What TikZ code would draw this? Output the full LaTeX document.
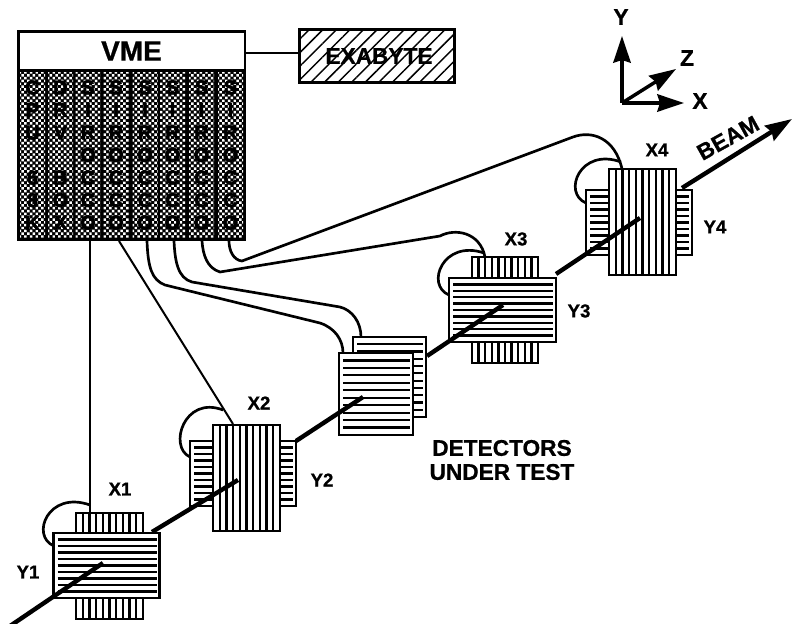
\documentclass[tikz,border=0pt]{standalone}
\usepackage{fontspec}
\setmainfont{Liberation Sans}[BoldFeatures={FakeBold=0.8}]
\newfontfamily\slotfont{Liberation Sans Bold}[FakeBold=2.2]
\usetikzlibrary{calc,patterns.meta,arrows.meta}
\tikzset{
  boxsize/.style 2 args={minimum width=#1*0.75pt,minimum height=#2*0.75pt},
  plate/.style={rectangle,draw=black,line width=2.2pt,fill=white,inner sep=0pt},
  rule/.style={draw=black,line width=1.7pt},
  hlined/.style={plate,path picture={
    \foreach \i in {1,...,#1}{
      \pgfmathsetmacro\frc{\i/(#1+1)}
      \draw[rule] ($(path picture bounding box.north west)!\frc!(path picture bounding box.south west)+(4,0)$)
        -- ($(path picture bounding box.north east)!\frc!(path picture bounding box.south east)+(-3,0)$);
    }}},
  vlined/.style={plate,path picture={
    \foreach \i in {1,...,#1}{
      \pgfmathsetmacro\frc{\i/(#1+1)}
      \draw[rule] ($(path picture bounding box.north west)!\frc!(path picture bounding box.north east)$)
        -- ($(path picture bounding box.south west)!\frc!(path picture bounding box.south east)$);
    }}},
  column/.style={rectangle,inner sep=0pt,align=center,
    font=\fontsize{15}{16.9}\selectfont\slotfont,
    preaction={fill=black},
    pattern={Dots[radius=1.3pt,distance=3pt,angle=45]},pattern color=white,
    boxsize={25}{164}},
  wire/.style={draw=black,line width=1.5pt},
  cable/.style={draw=black,line width=2pt},
  beam/.style={draw=black,line width=3.3pt},
  axis/.style={draw=black,line width=2.6pt,-{Stealth[length=20pt,width=13pt,inset=2pt]}},
  lab/.style={inner sep=0pt,font=\fontsize{14}{14}\selectfont\bfseries},
  biglab/.style={inner sep=0pt,align=center,font=\fontsize{17}{18}\selectfont\bfseries},
}
\begin{document}
\begin{tikzpicture}[x=0.75pt,y=-0.75pt]
\useasboundingbox (0,0) rectangle (792,624);

\node[rectangle,fill=black,inner sep=0pt,boxsize={229}{211}] (board) at (131.5,135.5) {};
\node[rectangle,fill=white,inner sep=0pt,boxsize={224}{36},font=\fontsize{21}{21}\selectfont\bfseries] (vme) at (131.5,51) {VME};
\foreach \name/\x/\txt in {cpu/32.5/C\\P\\U\\ \\6\\8\\K,drv/60.5/D\\R\\V\\ \\B\\O\\X,
    s1/88/S\\I\\R\\O\\C\\C\\O,s2/116/S\\I\\R\\O\\C\\C\\O,s3/145/S\\I\\R\\O\\C\\C\\O,
    s4/172.5/S\\I\\R\\O\\C\\C\\O,s5/201.5/S\\I\\R\\O\\C\\C\\O,s6/230.5/S\\I\\R\\O\\C\\C\\O}
    \node[column] (\name) at (\x,155) {\txt};

\node[rectangle,draw=black,line width=2.6pt,inner sep=0pt,boxsize={155}{53},
      pattern={Lines[angle=45,distance=7.2pt,line width=1.1pt]},
      font=\fontsize{17}{17}\selectfont\bfseries] (exabyte) at (377,56) {\kern3pt EXABYTE};

\node[vlined=9,boxsize={67}{106}] (d1x) at (109.5,566) {};
\node[hlined=9,boxsize={106}{65}] (d1y) at (106.5,565.5) {};
\node[hlined=9,boxsize={106}{65}] (d2y) at (243,473.5) {};
\node[vlined=9,boxsize={67}{106}] (d2x) at (246.5,478) {};
\node[hlined=10,boxsize={73}{80}] (d3b) at (389.5,377) {};
\node[hlined=10,boxsize={74}{82}] (d3f) at (376,394) {};
\node[vlined=9,boxsize={66}{106}] (d4x) at (505,310) {};
\node[hlined=9,boxsize={107}{64}] (d4y) at (502.5,310) {};
\node[hlined=9,boxsize={106}{65}] (d5y) at (639,222.5) {};
\node[vlined=9,boxsize={67}{106}] (d5x) at (642.5,222) {};

\coordinate (tapeport) at (299,53);
\coordinate (b1) at (10,626);
\coordinate (b2) at (103,563);
\coordinate (b3) at (152,532);
\coordinate (b4) at (238,480);
\coordinate (b5) at (296,441);
\coordinate (b6) at (363,397);
\coordinate (b7) at (427,356);
\coordinate (b8) at (503,305);
\coordinate (b9) at (556,274);
\coordinate (b10) at (640,218);
\coordinate (b11) at (682,188);
\coordinate (b12) at (792,119);
\coordinate (origin) at (622,103);
\coordinate (ytip) at (622,36);
\coordinate (xtip) at (684,103);
\coordinate (ztip) at (676,69);

\draw[wire] (board.east |- tapeport) -- (tapeport);
\draw[wire] (90,241) -- (90,513);
\draw[wire] (119,241) -- (233,424);

\draw[cable] (147,241) .. controls (148,268) and (152,280) .. (165,285) -- (320,323)
  .. controls (335,328) and (343,340) .. (343,353);
\draw[cable] (174,241) .. controls (175,262) and (178,278) .. (192,282) -- (340,307)
  .. controls (352,310) and (361,322) .. (361,337);
\draw[cable] (202,241) .. controls (203,255) and (207,268) .. (220,272) -- (440,236)
  .. controls (455,228) and (480,232) .. (485,257);
\draw[cable] (229,241) .. controls (229,250) and (233,260) .. (242,261) -- (573,137)
  .. controls (592,130) and (615,138) .. (622,169);

\draw[cable] (54,546) .. controls (30,536) and (48,490) .. (90,505);
\draw[cable] (190,457) .. controls (168,447) and (184,395) .. (223,410);
\draw[cable] (449,295) .. controls (425,285) and (443,239) .. (484,253);
\draw[cable] (586,203) .. controls (562,193) and (580,147) .. (621,162);

\draw[beam] (b1) -- (b2);
\draw[beam] (b3) -- (b4);
\draw[beam] (b5) -- (b6);
\draw[beam] (b7) -- (b8);
\draw[beam] (b9) -- (b10);
\draw[beam,-{Stealth[length=20pt,width=13pt,inset=2pt]}] (b11) -- (b12);

\draw[axis] (origin) -- (ytip);
\draw[axis] (origin) -- (xtip);
\draw[axis] (origin) -- (ztip);

\node[biglab] (ylab) at (621,17) {Y};
\node[biglab] (zlab) at (687,58) {Z};
\node[biglab] (xlab) at (700,101) {X};
\node[biglab,rotate=29] (beamlab) at (728,138) {BEAM};
\node[biglab] (testlab) at (502,460) {DETECTORS\\UNDER TEST};

\node[lab] (x1) at (120,489) {X1};
\node[lab] (y1) at (28,572) {Y1};
\node[lab] (x2) at (259,403) {X2};
\node[lab] (y2) at (322,480) {Y2};
\node[lab] (x3) at (516,239) {X3};
\node[lab] (y3) at (579,311) {Y3};
\node[lab] (x4) at (657,150) {X4};
\node[lab] (y4) at (715,227) {Y4};
\end{tikzpicture}
\end{document}
